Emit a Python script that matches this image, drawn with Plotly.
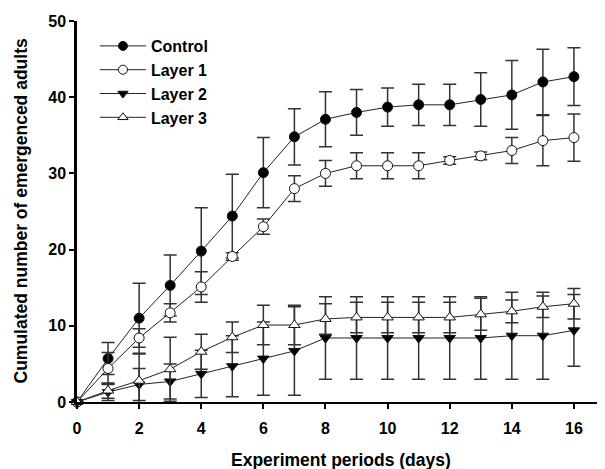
import plotly.graph_objects as go

days = list(range(0, 17))
control = [0, 5.7, 11.0, 15.3, 19.8, 24.4, 30.1, 34.8, 37.1, 38.0, 38.7, 39.0, 39.0, 39.7, 40.3, 42.0, 42.7]
control_sd = [0, 2.1, 4.6, 4.0, 5.7, 5.5, 4.6, 3.7, 3.6, 3.0, 2.5, 2.7, 2.7, 3.5, 4.5, 4.3, 3.8]
layer1 = [0, 4.4, 8.4, 11.7, 15.1, 19.1, 23.0, 28.0, 30.0, 31.0, 31.0, 31.0, 31.7, 32.3, 33.0, 34.3, 34.7]
layer1_sd = [0, 2.1, 1.2, 1.2, 2.0, 0.5, 1.0, 1.7, 1.7, 1.7, 1.7, 1.7, 0.5, 0.5, 1.7, 3.3, 3.1]
layer2 = [0, 1.3, 2.3, 2.7, 3.7, 4.7, 5.7, 6.7, 8.4, 8.4, 8.4, 8.4, 8.4, 8.4, 8.7, 8.7, 9.4]
layer2_sd = [0, 1.1, 2.1, 2.3, 3.1, 4.0, 4.8, 5.8, 5.4, 5.4, 5.4, 5.4, 5.4, 5.4, 5.7, 5.7, 4.7]
layer3 = [0, 1.5, 2.8, 4.3, 6.6, 8.5, 10.1, 10.1, 10.9, 11.1, 11.1, 11.1, 11.1, 11.5, 11.9, 12.5, 12.9]
layer3_sd = [0, 1.0, 3.5, 4.2, 2.3, 2.0, 2.6, 2.6, 2.0, 2.0, 2.0, 2.0, 2.0, 2.1, 1.5, 1.4, 2.0]

series = [
    ("Control", control, control_sd, "circle", "black"),
    ("Layer 1", layer1, layer1_sd, "circle", "white"),
    ("Layer 2", layer2, layer2_sd, "triangle-down", "black"),
    ("Layer 3", layer3, layer3_sd, "triangle-up", "white"),
]

FAM = "Liberation Sans, Arial, sans-serif"

fig = go.Figure()
for name, vals, sd, sym, fill in series:
    fig.add_trace(go.Scatter(
        x=days, y=vals, name=name, mode="lines+markers", showlegend=False,
        line=dict(color="#222222", width=1),
        marker=dict(symbol=sym, size=10, color=fill, line=dict(color="#111111", width=1)),
        error_y=dict(type="data", array=sd, visible=True, color="#333333", thickness=1.5, width=6.5),
        cliponaxis=False,
    ))
# legend entries (same styling, no error bars)
for name, vals, sd, sym, fill in series:
    fig.add_trace(go.Scatter(
        x=[None], y=[None], name=name, mode="lines+markers", showlegend=True,
        line=dict(color="#222222", width=1),
        marker=dict(symbol=sym, size=9, color=fill, line=dict(color="#111111", width=1)),
    ))

tick_font = dict(family=FAM, size=16, color="black", weight="bold")
title_font = dict(family=FAM, size=17.5, color="black", weight="bold")

# page body has an 8px default margin; the figure is sized to fit the window
fig.update_layout(
    width=597, height=461,
    margin=dict(l=69, r=0, t=13, b=67),
    plot_bgcolor="white", paper_bgcolor="white",
    showlegend=True,
    legend=dict(x=0.034, y=0.979, xanchor="left", yanchor="top", itemwidth=46,
                font=dict(family=FAM, size=16, color="black", weight="bold"),
                bgcolor="rgba(0,0,0,0)", tracegroupgap=0),
    xaxis=dict(range=[0, 17], tickvals=list(range(0, 17, 2)), ticks="outside", ticklen=5, tickwidth=1.5,
               tickcolor="black", showline=True, linecolor="black", linewidth=2, showgrid=False,
               zeroline=False, tickfont=tick_font, automargin=False, ticklabelstandoff=6),
    yaxis=dict(range=[0, 50], tickvals=list(range(0, 51, 10)), ticks="outside", ticklen=5, tickwidth=1.5,
               tickcolor="black", showline=True, linecolor="black", linewidth=2.5, showgrid=False,
               zeroline=False, tickfont=tick_font, automargin=False),
    annotations=[
        dict(text="Experiment periods (days)", xref="paper", yref="paper", x=0.5, y=(402 - 460) / 381,
             xanchor="center", yanchor="middle", showarrow=False, font=title_font),
        dict(text="Cumulated number of emergenced adults", xref="paper", yref="paper",
             x=(20 - 77) / 528, y=0.5, xanchor="center", yanchor="middle", textangle=-90,
             showarrow=False, font=title_font),
    ],
)

fig.write_html("out.html")
